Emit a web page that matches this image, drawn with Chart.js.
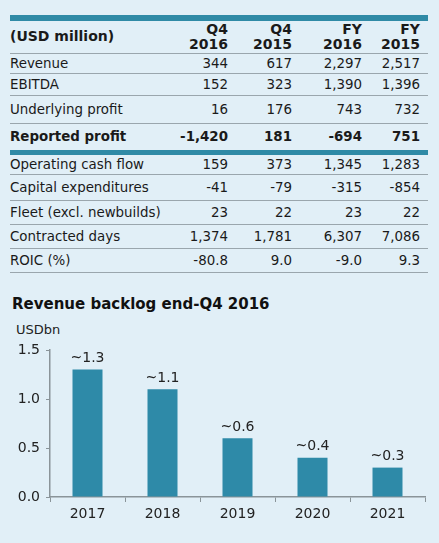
<!DOCTYPE html>
<html>
<head>
<meta charset="utf-8">
<script src="https://cdn.jsdelivr.net/npm/chart.js@4.4.1/dist/chart.umd.min.js"></script>
<style>
  html, body { margin: 0; padding: 0; }
  body {
    width: 439px; height: 543px; overflow: hidden; position: relative;
    background: #e1eff7; font-family: "DejaVu Sans", Verdana, sans-serif; color: #1a1a1a;
  }
  #tbl { position: absolute; left: 10px; top: 15px; width: 418px; }
  .bar { height: 6px; background: #2f8aa6; }
  .row { position: relative; box-sizing: border-box; border-bottom: 1.5px solid #9aa6ad; font-size: 13.4px; }
  .row span { position: absolute; white-space: nowrap; }
  .row.bold { font-weight: bold; border-bottom: none; }
  .thick { height: 5px; background: #2f8aa6; }
  #title { position: absolute; left: 12px; top: 295px; font-size: 15px; font-weight: bold; color: #111; }
  #unit { position: absolute; left: 16px; top: 322px; font-size: 13px; color: #222; }
  #wrap { position: absolute; left: 0; top: 330px; width: 439px; height: 213px; }
</style>
</head>
<body>
<div id="tbl"></div>
<div id="title">Revenue backlog end-Q4 2016</div>
<div id="unit">USDbn</div>
<div id="wrap"><canvas id="backlog-chart"></canvas></div>
<script>
    "use strict";

    // Table data
    var colHeads = [["Q4", "2016"], ["Q4", "2015"], ["FY", "2016"], ["FY", "2015"]];
    var rowLabels = ["Revenue", "EBITDA", "Underlying profit", "Reported profit",
                     "Operating cash flow", "Capital expenditures", "Fleet (excl. newbuilds)",
                     "Contracted days", "ROIC (%)"];
    var rowValues = [
        ["344", "617", "2,297", "2,517"],
        ["152", "323", "1,390", "1,396"],
        ["16", "176", "743", "732"],
        ["-1,420", "181", "-694", "751"],
        ["159", "373", "1,345", "1,283"],
        ["-41", "-79", "-315", "-854"],
        ["23", "22", "23", "22"],
        ["1,374", "1,781", "6,307", "7,086"],
        ["-80.8", "9.0", "-9.0", "9.3"]
    ];
    var rowHeights = [20, 22, 28, 26, 20, 26, 24, 24, 24];

    // Chart data
    var years = ["2017", "2018", "2019", "2020", "2021"];
    var backlog = [1.3, 1.1, 0.6, 0.4, 0.3];
    var backlogLabels = ["~1.3", "~1.1", "~0.6", "~0.4", "~0.3"];

    // Build table
    var colRight = [218, 282, 352, 410];
    var html = '<div class="bar"></div>';
    html += '<div class="row bold" style="height:33px;font-size:14px;border-bottom:1.5px solid #9aa6ad">';
    html += '<span style="left:0;top:7px">(USD million)</span>';
    colHeads.forEach(function (h, i) {
        html += '<span style="right:' + (418 - colRight[i]) + 'px;top:1px;text-align:right;line-height:15px">' + h[0] + '<br>' + h[1] + '</span>';
    });
    html += '</div>';
    rowLabels.forEach(function (lab, r) {
        var isBold = r === 3;
        var h = rowHeights[r];
        html += '<div class="row' + (isBold ? ' bold' : '') + '" style="height:' + h + 'px">';
        var top = Math.round((h - 17) / 2);
        html += '<span style="left:0;top:' + top + 'px">' + lab + '</span>';
        rowValues[r].forEach(function (v, i) {
            html += '<span style="right:' + (418 - colRight[i]) + 'px;top:' + top + 'px">' + v + '</span>';
        });
        html += '</div>';
        if (isBold) html += '<div class="thick"></div>';
    });
    document.getElementById('tbl').innerHTML = html;

    // Value labels above bars
    var barLabels = {
        id: 'barLabels',
        afterDatasetsDraw: function (chart) {
            var ctx = chart.ctx;
            var meta = chart.getDatasetMeta(0);
            ctx.save();
            ctx.font = '14px "DejaVu Sans"';
            ctx.fillStyle = '#222';
            ctx.textAlign = 'center';
            ctx.textBaseline = 'bottom';
            meta.data.forEach(function (bar, i) {
                ctx.fillText(backlogLabels[i], bar.x, bar.y - 4);
            });
            ctx.restore();
        }
    };

    // Revenue backlog bar chart
    var ctx1 = document.getElementById('backlog-chart').getContext('2d');
    var myChart1 = new Chart(ctx1, {
        type: 'bar',
        data: {
            labels: years,
            datasets: [{
                label: 'Revenue backlog',
                data: backlog,
                backgroundColor: '#2e8aa8',
                barPercentage: 0.4,
                categoryPercentage: 1.0
            }]
        },
        plugins: [barLabels],
        options: {
            responsive: true,
            maintainAspectRatio: false,
            animation: false,
            layout: { padding: { left: 0, right: 14, top: 20, bottom: 0 } },
            plugins: { legend: { display: false }, tooltip: { enabled: false } },
            scales: {
                x: {
                    grid: { drawOnChartArea: false, tickLength: 5, color: '#8a9499', offset: true },
                    border: { color: '#8a9499', width: 1.5 },
                    ticks: { color: '#222', font: { size: 14, family: 'DejaVu Sans' }, padding: 4 },
                    afterFit: function (scale) { scale.height = 46; }
                },
                y: {
                    min: 0, max: 1.5,
                    grid: { drawOnChartArea: false, tickLength: 4, color: '#8a9499' },
                    border: { color: '#8a9499', width: 1.5 },
                    ticks: {
                        stepSize: 0.5, color: '#222', padding: 6,
                        font: { size: 14, family: 'DejaVu Sans' },
                        callback: function (v) { return Number(v).toFixed(1); }
                    },
                    afterFit: function (scale) { scale.width = 50; }
                }
            }
        }
    });
</script>
</body>
</html>
